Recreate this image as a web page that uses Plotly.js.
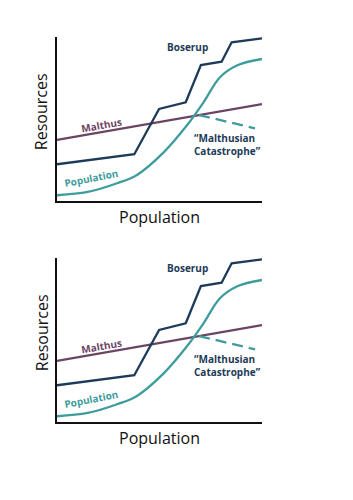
<!DOCTYPE html>
<html>
<head>
<meta charset="utf-8">
<script src="https://cdn.plot.ly/plotly-3.0.1.min.js"></script>
<style>html,body{margin:0;padding:0;background:#fff;}#chart{width:353px;height:500px;}</style>
</head>
<body>
<div id="chart"></div>
<script>
// Data (x = population, y = resources, both on a 0-100 scale)
var boserupX = [0, 37.7, 49.8, 62.8, 70.2, 80.3, 85.2, 100];
var boserupY = [22.4, 28.5, 56.1, 60.2, 82.9, 84.9, 96.8, 99.2];
var malthusX = [0, 100];
var malthusY = [37.2, 59.1];
var popX = [0, 15, 29.3, 39, 51.9, 63.3, 71.4, 79.5, 88, 100];
var popY = [3.5, 5.5, 10.8, 15.9, 29.5, 46, 60, 75.5, 82.8, 86.6];
var catX = [69.3, 96.6];
var catY = [52.4, 44.3];

var labelText = ["Boserup", "Malthus", "Population", "“Malthusian<br>Catastrophe”"];
var xTitle = "Population";
var yTitle = "Resources";

var navy = "#1d3b58", purple = "#6c4463", teal = "#3e9c9d";
var FONT = "Open Sans, sans-serif";

var traces = [];
var annotations = [];
["", "2"].forEach(function (s, i) {
  var xa = "x" + s, ya = "y" + s;
  traces.push({x: malthusX, y: malthusY, xaxis: xa, yaxis: ya, mode: "lines", line: {color: purple, width: 2.3}, hoverinfo: "skip"});
  traces.push({x: catX, y: catY, xaxis: xa, yaxis: ya, mode: "lines", line: {color: teal, width: 2.3, dash: "11px,6px"}, hoverinfo: "skip"});
  traces.push({x: popX, y: popY, xaxis: xa, yaxis: ya, mode: "lines", line: {color: teal, width: 2.3, shape: "spline", smoothing: 1}, hoverinfo: "skip"});
  traces.push({x: boserupX, y: boserupY, xaxis: xa, yaxis: ya, mode: "lines", line: {color: navy, width: 2.3}, hoverinfo: "skip"});
  var base = {xref: xa, yref: ya, showarrow: false, xanchor: "center", yanchor: "middle"};
  annotations.push(Object.assign({}, base, {x: 63.9, y: 93.9, text: labelText[0], font: {family: FONT, size: 10, weight: 700, color: navy}}));
  annotations.push(Object.assign({}, base, {x: 21.8, y: 46.3, text: labelText[1], textangle: -10, font: {family: FONT, size: 10, weight: 700, color: purple}}));
  annotations.push(Object.assign({}, base, {x: 16.6, y: 13.8, text: labelText[2], textangle: -11, font: {family: FONT, size: 10, weight: 700, color: teal}}));
  annotations.push(Object.assign({}, base, {x: 83.4, y: 34.6, text: labelText[3], align: "left", font: {family: FONT, size: 10, weight: 700, color: navy}}));
  // axis titles
  annotations.push({xref: "paper", yref: "paper", x: 41.7/353, y: 1 - (111.5 + 221*i)/500, text: yTitle, textangle: -90,
    xanchor: "center", yanchor: "middle", showarrow: false, font: {family: FONT, size: 16, color: "#111"}});
  annotations.push({xref: "paper", yref: "paper", x: 159/353, y: 1 - (217 + 221*i)/500, text: xTitle,
    xanchor: "center", yanchor: "middle", showarrow: false, font: {family: FONT, size: 16, color: "#111"}});
});

function xAxis(anchor) {
  return {domain: [57/353, 262/353], range: [0, 100], anchor: anchor, showline: true, linecolor: "#111", linewidth: 2,
    showgrid: false, zeroline: false, showticklabels: false, ticks: ""};
}
function yAxis(anchor, dom) {
  return {domain: dom, range: [0, 100], anchor: anchor, showline: true, linecolor: "#111", linewidth: 2,
    showgrid: false, zeroline: false, showticklabels: false, ticks: ""};
}

var layout = {
  width: 353, height: 500,
  margin: {l: 0, r: 0, t: 0, b: 0},
  paper_bgcolor: "#fff", plot_bgcolor: "#fff",
  showlegend: false,
  xaxis: xAxis("y"),
  yaxis: yAxis("x", [1 - 201/500, 1 - 37/500]),
  xaxis2: xAxis("y2"),
  yaxis2: yAxis("x2", [1 - 422/500, 1 - 258/500]),
  annotations: annotations
};

Plotly.newPlot("chart", traces, layout, {staticPlot: true, displayModeBar: false});
</script>
</body>
</html>
